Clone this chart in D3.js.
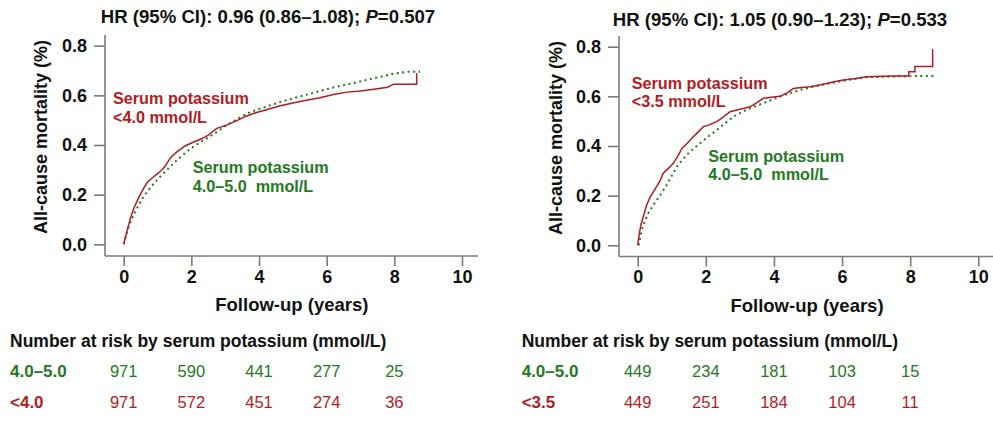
<!DOCTYPE html>
<html><head><meta charset="utf-8">
<script src="https://cdn.jsdelivr.net/npm/d3@7"></script>
<style>
html,body{margin:0;padding:0;background:#fff;}
svg{display:block;font-family:"Liberation Sans",Arial,sans-serif;}
</style></head>
<body><svg id="chart" width="993" height="428"></svg>
<script>
// ---------- data ----------
const xTicks = [0, 2, 4, 6, 8, 10];
const yTicks = [0, 0.2, 0.4, 0.6, 0.8];
const riskTimes = [0, 2, 4, 6, 8];

// Left panel: <4.0 vs 4.0–5.0
const leftTitle = "HR (95% CI): 0.96 (0.86–1.08); ";
const leftP = "0.507";
const leftRedT = [0, 0.1, 0.2, 0.3, 0.45, 0.6, 0.7, 0.85, 1.0, 1.1, 1.2, 1.4, 1.6, 1.8, 2.0, 2.3, 2.5, 2.75, 3.0, 3.3, 3.6, 3.9, 4.3, 4.6, 5.0, 5.4, 5.8, 6.2, 6.6, 7.0, 7.4, 7.8, 7.98, 8.66, 8.66];
const leftRedV = [0, 0.055, 0.105, 0.145, 0.19, 0.228, 0.25, 0.268, 0.285, 0.296, 0.31, 0.352, 0.375, 0.395, 0.408, 0.425, 0.44, 0.467, 0.478, 0.495, 0.515, 0.53, 0.545, 0.557, 0.569, 0.58, 0.59, 0.603, 0.613, 0.618, 0.625, 0.633, 0.645, 0.645, 0.69];
const leftGreenT = [0, 0.1, 0.2, 0.3, 0.45, 0.6, 0.8, 1.0, 1.25, 1.5, 1.75, 2.0, 2.25, 2.5, 2.75, 3.0, 3.3, 3.65, 4.0, 4.4, 4.8, 5.2, 5.6, 6.0, 6.4, 6.8, 7.2, 7.6, 8.0, 8.4, 8.76];
const leftGreenV = [0, 0.05, 0.09, 0.12, 0.16, 0.195, 0.23, 0.262, 0.295, 0.33, 0.36, 0.388, 0.41, 0.43, 0.452, 0.476, 0.5, 0.527, 0.545, 0.563, 0.58, 0.595, 0.61, 0.625, 0.638, 0.65, 0.663, 0.675, 0.688, 0.695, 0.695];
const leftRedLabel = ["Serum potassium", "<4.0 mmol/L"];
const leftGreenLabel = ["Serum potassium", "4.0–5.0\u00a0 mmol/L"];
const leftRiskLabels = ["4.0–5.0", "<4.0"];
const leftRiskGreen = [971, 590, 441, 277, 25];
const leftRiskRed = [971, 572, 451, 274, 36];

// Right panel: <3.5 vs 4.0–5.0
const rightTitle = "HR (95% CI): 1.05 (0.90–1.23); ";
const rightP = "0.533";
const rightRedT = [0, 0.05, 0.1, 0.17, 0.26, 0.35, 0.46, 0.55, 0.65, 0.75, 0.9, 1.05, 1.2, 1.3, 1.45, 1.63, 1.8, 1.93, 2.1, 2.32, 2.5, 2.71, 3.0, 3.3, 3.5, 3.69, 4.0, 4.18, 4.4, 4.57, 4.8, 5.06, 5.3, 5.55, 5.8, 6.04, 6.4, 6.72, 7.2, 7.6, 7.96, 7.96, 8.14, 8.14, 8.66, 8.66];
const rightRedV = [0, 0.05, 0.085, 0.118, 0.16, 0.19, 0.215, 0.235, 0.258, 0.29, 0.31, 0.33, 0.365, 0.39, 0.41, 0.437, 0.46, 0.478, 0.485, 0.498, 0.515, 0.538, 0.548, 0.558, 0.575, 0.592, 0.597, 0.6, 0.615, 0.632, 0.636, 0.639, 0.645, 0.652, 0.66, 0.666, 0.672, 0.679, 0.681, 0.682, 0.682, 0.699, 0.699, 0.72, 0.72, 0.79];
const rightGreenT = [0.03, 0.12, 0.2, 0.31, 0.45, 0.56, 0.7, 0.85, 1.0, 1.15, 1.3, 1.44, 1.6, 1.83, 2.05, 2.32, 2.55, 2.81, 3.1, 3.45, 3.79, 4.1, 4.45, 4.77, 5.1, 5.4, 5.74, 6.1, 6.4, 6.72, 7.2, 7.8, 8.3, 8.72];
const rightGreenV = [0, 0.062, 0.095, 0.129, 0.16, 0.182, 0.21, 0.243, 0.28, 0.317, 0.342, 0.364, 0.385, 0.411, 0.436, 0.464, 0.49, 0.518, 0.54, 0.56, 0.578, 0.595, 0.612, 0.626, 0.637, 0.646, 0.655, 0.664, 0.671, 0.677, 0.679, 0.681, 0.682, 0.682];
const rightRedLabel = ["Serum potassium", "<3.5 mmol/L"];
const rightGreenLabel = ["Serum potassium", "4.0–5.0\u00a0 mmol/L"];
const rightRiskLabels = ["4.0–5.0", "<3.5"];
const rightRiskGreen = [449, 234, 181, 103, 15];
const rightRiskRed = [449, 251, 184, 104, 11];

const riskHeader = "Number at risk by serum potassium (mmol/L)";
const xTitle = "Follow-up (years)";
const yTitle = "All-cause mortality (%)";

// ---------- style ----------
const RED = "#b31b24", GREEN = "#237a23", AXIS = "#7a7a7a";

const svg = d3.select("#chart");

function panel(cfg) {
  const g = svg.append("g");
  const x = d3.scaleLinear().domain([0, 10]).range([cfg.x0, cfg.x10]);
  const y = d3.scaleLinear().domain([0, 0.8]).range([cfg.y0, cfg.y08]);

  // axis lines
  g.append("line").attr("x1", cfg.ax).attr("x2", cfg.ax).attr("y1", cfg.axTop).attr("y2", cfg.ay)
    .attr("stroke", AXIS).attr("stroke-width", 1.6);
  g.append("line").attr("x1", cfg.ax).attr("x2", cfg.axRight).attr("y1", cfg.ay).attr("y2", cfg.ay)
    .attr("stroke", AXIS).attr("stroke-width", 1.6);

  const ya = g.append("g").attr("transform", `translate(${cfg.ax},0)`)
    .call(d3.axisLeft(y).tickValues(yTicks).tickFormat(d3.format(".1f")).tickSize(11).tickPadding(7));
  const xa = g.append("g").attr("transform", `translate(0,${cfg.ay})`)
    .call(d3.axisBottom(x).tickValues(xTicks).tickFormat(d3.format("d")).tickSize(10).tickPadding(4));
  [ya, xa].forEach(a => {
    a.select(".domain").remove();
    a.selectAll(".tick line").attr("stroke", AXIS).attr("stroke-width", 1.6);
    a.selectAll(".tick text").attr("fill", "#111").attr("font-size", 18).attr("font-weight", "bold")
      .attr("font-family", "Liberation Sans, Arial, sans-serif");
  });

  // title
  const t = g.append("text").attr("x", cfg.titleX).attr("y", cfg.titleY).attr("text-anchor", "middle")
    .attr("font-size", 18.6).attr("font-weight", "bold").attr("fill", "#111");
  t.append("tspan").text(cfg.title);
  t.append("tspan").attr("font-style", "italic").text("P");
  t.append("tspan").text("=" + cfg.p);

  // axis titles
  g.append("text").attr("x", (cfg.x0 + cfg.x10) / 2 - 1).attr("y", cfg.ay + 55).attr("text-anchor", "middle")
    .attr("font-size", 18.5).attr("font-weight", "bold").attr("fill", "#111").text(xTitle);
  g.append("text").attr("transform", `translate(${cfg.yTitleX},${(cfg.y0 + cfg.y08) / 2 - 8}) rotate(-90)`)
    .attr("text-anchor", "middle").attr("font-size", 18).attr("font-weight", "bold").attr("fill", "#111").text(yTitle);

  // curves
  const line = d3.line().x(d => x(d[0])).y(d => y(d[1])).curve(d3.curveLinear);
  const green = d3.zip(cfg.gT, cfg.gV);
  const red = d3.zip(cfg.rT, cfg.rV);
  g.append("path").attr("d", line(green)).attr("fill", "none").attr("stroke", GREEN)
    .attr("stroke-width", 2).attr("stroke-dasharray", "2,3.5");
  g.append("path").attr("d", line(red)).attr("fill", "none").attr("stroke", RED)
    .attr("stroke-width", 1.5);

  // curve labels
  function label(lines, col, lx, ly) {
    const tx = g.append("text").attr("font-size", 16.2).attr("font-weight", "bold").attr("fill", col);
    lines.forEach((s, i) => tx.append("tspan").attr("x", lx).attr("y", ly + i * 18.5).text(s));
  }
  label(cfg.redLabel, RED, cfg.redLX, cfg.redLY);
  label(cfg.greenLabel, GREEN, cfg.greenLX, cfg.greenLY);

  // number at risk
  g.append("text").attr("x", cfg.tableX).attr("y", 346.5).attr("font-size", 17.5).attr("font-weight", "bold")
    .attr("fill", "#111").text(riskHeader);
  const rows = [{lab: cfg.riskLabels[0], vals: cfg.riskG, col: GREEN, y: 376.5},
                {lab: cfg.riskLabels[1], vals: cfg.riskR, col: RED, y: 407.5}];
  rows.forEach(r => {
    g.append("text").attr("x", cfg.tableX).attr("y", r.y).attr("font-size", 17).attr("font-weight", "bold")
      .attr("fill", r.col).text(r.lab);
    g.selectAll(null).data(d3.zip(riskTimes, r.vals)).join("text")
      .attr("x", d => x(d[0])).attr("y", r.y).attr("text-anchor", "middle")
      .attr("font-size", 16.5).attr("fill", r.col).text(d => d[1]);
  });
}

panel({x0: 123.7, x10: 462, y0: 244.3, y08: 45.7, ax: 105, ay: 256, axTop: 35, axRight: 478,
  titleX: 268, titleY: 22.7, title: leftTitle, p: leftP, yTitleX: 47,
  rT: leftRedT, rV: leftRedV, gT: leftGreenT, gV: leftGreenV,
  redLabel: leftRedLabel, redLX: 113, redLY: 104, greenLabel: leftGreenLabel, greenLX: 192.7, greenLY: 173,
  tableX: 10, riskLabels: leftRiskLabels, riskG: leftRiskGreen, riskR: leftRiskRed});

panel({x0: 637.7, x10: 978.3, y0: 245.3, y08: 46.7, ax: 619, ay: 256.5, axTop: 36, axRight: 993,
  titleX: 780, titleY: 26, title: rightTitle, p: rightP, yTitleX: 562,
  rT: rightRedT, rV: rightRedV, gT: rightGreenT, gV: rightGreenV,
  redLabel: rightRedLabel, redLX: 631.7, redLY: 88.5, greenLabel: rightGreenLabel, greenLX: 708.3, greenLY: 161.5,
  tableX: 521.7, riskLabels: rightRiskLabels, riskG: rightRiskGreen, riskR: rightRiskRed});
</script></body></html>
